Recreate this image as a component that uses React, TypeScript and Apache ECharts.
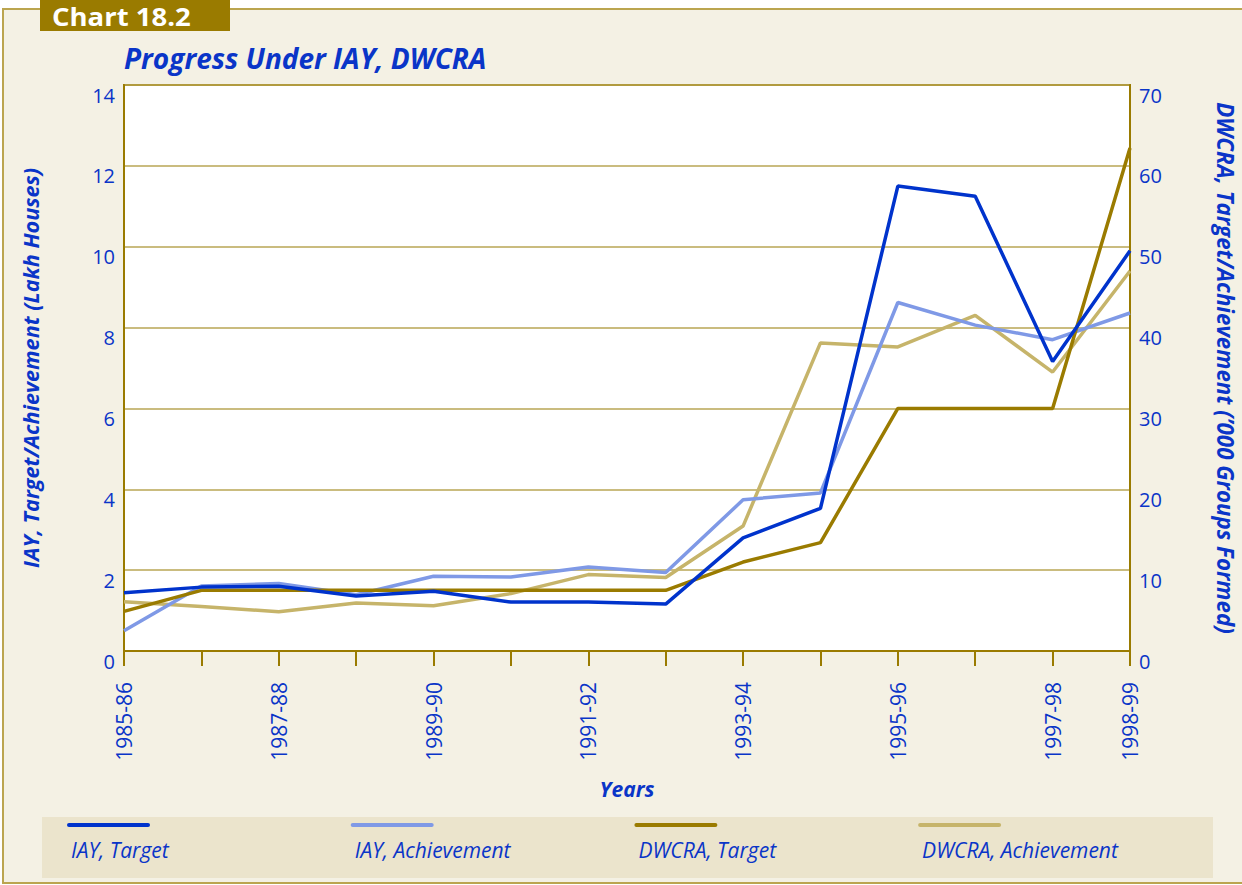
import React, { useEffect, useRef } from "react";
import * as echarts from "echarts";

const years = [
  "1985-86", "1986-87", "1987-88", "1988-89", "1989-90", "1990-91", "1991-92",
  "1992-93", "1993-94", "1994-95", "1995-96", "1996-97", "1997-98", "1998-99",
];
// IAY, lakh houses (left axis)
const iayTarget = [1.44, 1.58, 1.6, 1.36, 1.48, 1.21, 1.21, 1.16, 2.8, 3.53, 11.5, 11.25, 7.16, 9.9];
const iayAchievement = [0.5, 1.61, 1.67, 1.39, 1.85, 1.83, 2.08, 1.94, 3.74, 3.91, 8.62, 8.06, 7.7, 8.36];
// DWCRA, '000 groups formed (right axis)
const dwcraTarget = [4.9, 7.5, 7.5, 7.5, 7.5, 7.5, 7.5, 7.5, 11.0, 13.4, 30, 30, 30, 62.2];
const dwcraAchievement = [6.1, 5.5, 4.85, 5.95, 5.6, 7.1, 9.45, 9.1, 15.45, 38.1, 37.6, 41.5, 34.5, 47.0];

const seriesNames = ["IAY, Target", "IAY, Achievement", "DWCRA, Target", "DWCRA, Achievement"];
const seriesColors = ["#0033cc", "#7f99e6", "#9a7b00", "#c6b46a"];
const seriesData = [iayTarget, iayAchievement, dwcraTarget, dwcraAchievement];
const seriesAxis = [0, 0, 1, 1];

const leftTicks = { min: 0, max: 14, interval: 2 };
const rightTicks = { min: 0, max: 70, interval: 10 };

const FONT = "'Open Sans', 'Noto Sans', sans-serif";
const BLUE = "#0a35c8";
const OLIVE = "#9a7b00";
const GRIDLINE = "#b9a655";

export default function App() {
  const ref = useRef<HTMLDivElement>(null);

  useEffect(() => {
    document.documentElement.style.overflow = "hidden";
    document.body.style.margin = "0";
    if (!ref.current) return;
    const chart = echarts.init(ref.current, undefined, { renderer: "svg", width: 1242, height: 885 });

    const legendGraphics: any[] = [
      {
        type: "rect",
        shape: { x: 42, y: 817, width: 1171, height: 61 },
        style: { fill: "#ebe4cc" },
        z: 1,
      },
    ];
    seriesNames.forEach((name, i) => {
      const x0 = 69 + i * 283.7;
      legendGraphics.push({
        type: "line",
        shape: { x1: x0, y1: 825, x2: x0 + 79, y2: 825 },
        style: { stroke: seriesColors[i], lineWidth: 4, lineCap: "round" },
        z: 2,
      });
      legendGraphics.push({
        type: "text",
        x: x0 + 2,
        y: 850,
        style: {
          text: name,
          fill: BLUE,
          font: `italic 21px ${FONT}`,
          verticalAlign: "middle",
          align: "left",
        },
        z: 2,
      });
    });

    const axisNameStyle = (size: number) => ({
      color: BLUE,
      fontFamily: FONT,
      fontSize: size,
      fontStyle: "italic",
      fontWeight: "bold",
    });

    const option: any = {
      animation: false,
      backgroundColor: "#ffffff",
      graphic: [
        {
          type: "rect",
          shape: { x: 3, y: 9, width: 1260, height: 874 },
          style: { fill: "#f4f1e4", stroke: "#bba54f", lineWidth: 2 },
          z: -10,
          silent: true,
        },
        {
          type: "rect",
          shape: { x: 40, y: 0, width: 190, height: 31 },
          style: { fill: "#9a7b00" },
          z: 1,
        },
        {
          type: "text",
          x: 52,
          y: 16,
          scaleX: 1.1,
          style: {
            text: "Chart 18.2",
            fill: "#ffffff",
            font: `bold 25px ${FONT}`,
            lineHeight: 25,
            verticalAlign: "middle",
          },
          z: 2,
        },
        {
          type: "text",
          x: 124,
          y: 58,
          style: {
            text: "Progress Under IAY, DWCRA",
            fill: BLUE,
            font: `italic bold 28px ${FONT}`,
            verticalAlign: "middle",
          },
          z: 2,
        },
        ...legendGraphics,
      ],
      grid: {
        left: 124,
        right: 112,
        top: 85,
        bottom: 234,
        outerBoundsMode: "none",
        containLabel: false,
        show: true,
        backgroundColor: "#ffffff",
        borderColor: OLIVE,
        borderWidth: 2,
      },
      xAxis: {
        type: "category",
        data: years,
        boundaryGap: false,
        offset: 7,
        axisLine: { show: true, lineStyle: { color: OLIVE, width: 2 } },
        axisTick: { show: true, interval: 0, length: 15, lineStyle: { color: OLIVE, width: 2 } },
        axisLabel: {
          rotate: 90,
          interval: (i: number) => i % 2 === 0 || i === years.length - 1,
          color: BLUE,
          fontFamily: FONT,
          fontSize: 21,
          margin: 24,
        },
        splitLine: { show: false },
        name: "Years",
        nameLocation: "middle",
        nameGap: 120,
        nameTextStyle: axisNameStyle(21),
      },
      yAxis: [
        {
          type: "value",
          ...leftTicks,
          position: "left",
          axisLine: { show: true, lineStyle: { color: OLIVE, width: 2 } },
          axisTick: { show: false },
          axisLabel: {
            color: BLUE,
            fontFamily: FONT,
            fontSize: 20,
            margin: 9,
            verticalAlign: "top",
          },
          splitLine: { show: true, lineStyle: { color: GRIDLINE, width: 1.5 } },
          name: "IAY, Target/Achievement (Lakh Houses)",
          nameLocation: "middle",
          nameRotate: 90,
          nameGap: 83,
          nameTextStyle: axisNameStyle(21.6),
        },
        {
          type: "value",
          ...rightTicks,
          position: "right",
          axisLine: { show: true, lineStyle: { color: OLIVE, width: 2 } },
          axisTick: { show: false },
          axisLabel: {
            color: BLUE,
            fontFamily: FONT,
            fontSize: 20,
            margin: 9,
            verticalAlign: "top",
          },
          splitLine: { show: false },
          name: "DWCRA, Target/Achievement (\u2019000 Groups Formed)",
          nameLocation: "middle",
          nameRotate: -90,
          nameGap: 84,
          nameTextStyle: axisNameStyle(22.3),
        },
      ],
      series: seriesNames.map((name, i) => ({
        name,
        type: "line",
        yAxisIndex: seriesAxis[i],
        data: seriesData[i],
        symbol: "none",
        lineStyle: { color: seriesColors[i], width: 3.5 },
        itemStyle: { color: seriesColors[i] },
        z: [5, 3, 4, 2][i],
      })),
    };

    chart.setOption(option);
    return () => chart.dispose();
  }, []);

  return (
    <div
      ref={ref}
      style={{ position: "fixed", left: 0, top: 0, width: 1242, height: 885 }}
    />
  );
}
